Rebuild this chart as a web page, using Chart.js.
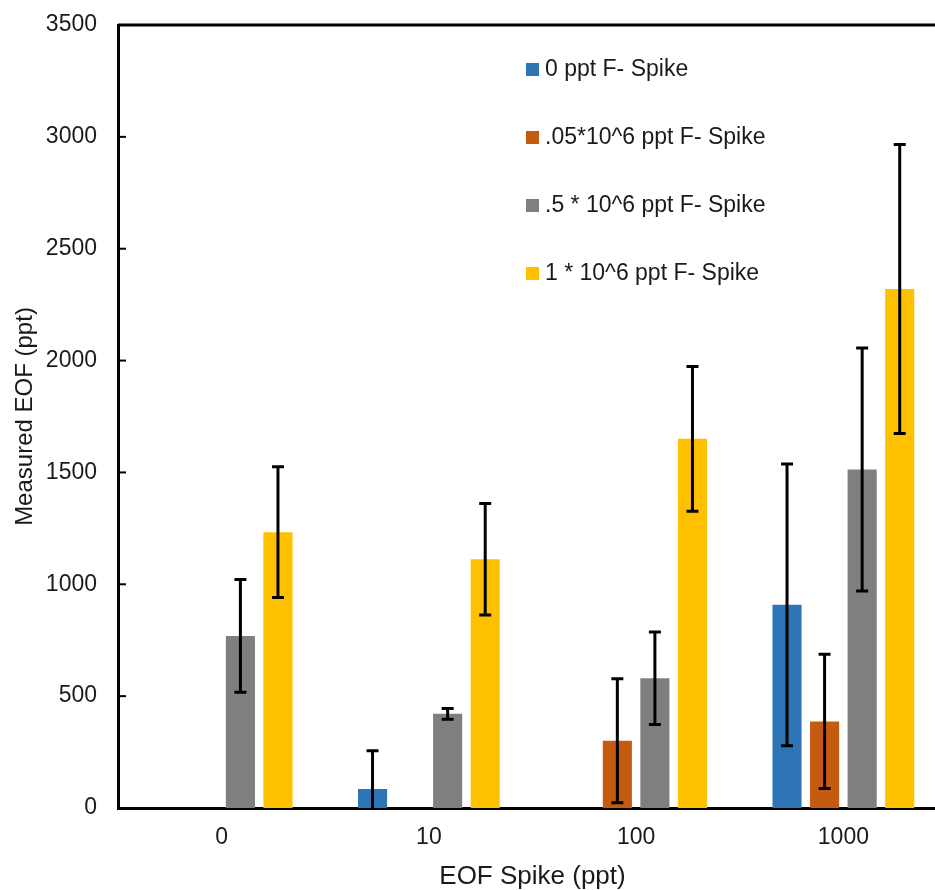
<!DOCTYPE html>
<html>
<head>
<meta charset="utf-8">
<script src="https://cdn.jsdelivr.net/npm/chart.js@4.4.1/dist/chart.umd.min.js"></script>
<style>
  html, body { margin: 0; padding: 0; background: #fff; overflow: hidden; }
  #wrap { position: relative; width: 948px; height: 890px; }
</style>
</head>
<body>
<div id="wrap"><canvas id="chart1"></canvas></div>
<script>
var categories = ['0', '10', '100', '1000'];
var seriesNames = ['0 ppt F- Spike', '.05*10^6 ppt F- Spike', '.5 * 10^6 ppt F- Spike', '1 * 10^6 ppt F- Spike'];
var seriesColors = ['#2E75B6', '#C55A11', '#7F7F7F', '#FFC000'];

var zeroSpike = [null, 85, null, 908];
var zeroSpikeErr = [null, 171, null, 630];
var lowSpike = [null, null, 301, 387];
var lowSpikeErr = [null, null, 277, 300];
var midSpike = [769, 421, 580, 1513];
var midSpikeErr = [252, 24, 207, 543];
var highSpike = [1233, 1112, 1650, 2320];
var highSpikeErr = [292, 249, 323, 646];

var yTicks = [0, 500, 1000, 1500, 2000, 2500, 3000, 3500];

var errors = [zeroSpikeErr, lowSpikeErr, midSpikeErr, highSpikeErr];
var values = [zeroSpike, lowSpike, midSpike, highSpike];

var FONT = "'Liberation Sans', Arial, sans-serif";
var TEXT = '#1a1a1a';

// error bars, drawn on top of the bars and clipped to the plot
var errorBars = {
    id: 'errorBars',
    afterDatasetsDraw: function (chart) {
        var ctx = chart.ctx;
        var y = chart.scales.y;
        var area = chart.chartArea;
        ctx.save();
        ctx.beginPath();
        ctx.rect(area.left, area.top, area.right - area.left, area.bottom - area.top);
        ctx.clip();
        ctx.strokeStyle = '#000';
        ctx.lineWidth = 3;
        for (var i = 0; i < chart.data.datasets.length; i++) {
            var meta = chart.getDatasetMeta(i);
            for (var j = 0; j < meta.data.length; j++) {
                var v = values[i][j];
                var e = errors[i][j];
                if (v === null || e === null) continue;
                var x = meta.data[j].x;
                var top = y.getPixelForValue(v + e);
                var bot = y.getPixelForValue(v - e);
                ctx.beginPath();
                ctx.moveTo(x, top);
                ctx.lineTo(x, bot);
                ctx.moveTo(x - 6, top);
                ctx.lineTo(x + 6, top);
                ctx.moveTo(x - 6, bot);
                ctx.lineTo(x + 6, bot);
                ctx.stroke();
            }
        }
        ctx.restore();
    }
};

// frame, inside tick marks and the legend inside the plot
var frameAndLegend = {
    id: 'frameAndLegend',
    afterDraw: function (chart) {
        var ctx = chart.ctx;
        var area = chart.chartArea;
        var y = chart.scales.y;
        ctx.save();
        ctx.strokeStyle = '#000';
        ctx.lineWidth = 3;
        ctx.beginPath();
        ctx.moveTo(area.left, area.top);
        ctx.lineTo(area.right, area.top);
        ctx.lineTo(area.right, area.bottom);
        ctx.stroke();

        ctx.lineWidth = 2;
        y.ticks.forEach(function (t) {
            var py = y.getPixelForValue(t.value);
            ctx.beginPath();
            ctx.moveTo(area.left, py);
            ctx.lineTo(area.left + 8, py);
            ctx.stroke();
        });

        ctx.font = '23px ' + FONT;
        ctx.textBaseline = 'middle';
        var lx = area.left + 408;
        for (var i = 0; i < seriesNames.length; i++) {
            var ly = area.top + 44 + i * 68;
            ctx.fillStyle = seriesColors[i];
            ctx.fillRect(lx, ly - 6, 13, 13);
            ctx.fillStyle = TEXT;
            ctx.fillText(seriesNames[i], lx + 19, ly + 1);
        }
        ctx.restore();
    }
};

var ctx = document.getElementById('chart1').getContext('2d');

var myChart1 = new Chart(ctx, {
    type: 'bar',
    data: {
        labels: categories,
        datasets: values.map(function (v, i) {
            return {
                label: seriesNames[i],
                data: v,
                backgroundColor: seriesColors[i],
                borderWidth: 0,
                categoryPercentage: 0.725,
                barPercentage: 0.775
            };
        })
    },
    options: {
        responsive: true,
        maintainAspectRatio: false,
        animation: false,
        layout: { padding: { top: 25, right: 1, left: 0, bottom: 0 } },
        plugins: {
            legend: { display: false },
            tooltip: { enabled: false }
        },
        scales: {
            x: {
                grid: { display: false, drawTicks: false },
                border: { display: true, color: '#000', width: 3 },
                ticks: { color: TEXT, font: { family: FONT, size: 23 }, padding: 16 },
                title: {
                    display: true,
                    text: 'EOF Spike (ppt)',
                    color: TEXT,
                    font: { family: FONT, size: 26, lineHeight: 1 },
                    padding: { top: 0, bottom: 0 }
                },
                afterFit: function (scale) { scale.height = 82; }
            },
            y: {
                min: 0,
                max: 3500,
                afterBuildTicks: function (scale) {
                    scale.ticks = yTicks.map(function (v) { return { value: v }; });
                },
                grid: { display: false, drawTicks: false },
                border: { display: true, color: '#000', width: 3 },
                ticks: {
                    color: TEXT,
                    font: { family: FONT, size: 23 },
                    padding: 21,
                    callback: function (v) { return String(v); }
                },
                title: {
                    display: true,
                    text: 'Measured EOF (ppt)',
                    color: TEXT,
                    font: { family: FONT, size: 24, lineHeight: 1 },
                    padding: { top: 13, bottom: 0 }
                },
                afterFit: function (scale) {
                    scale.width = 118;
                    scale.paddingTop = 0;
                    scale.paddingBottom = 0;
                }
            }
        }
    },
    plugins: [errorBars, frameAndLegend]
});
</script>
</body>
</html>
